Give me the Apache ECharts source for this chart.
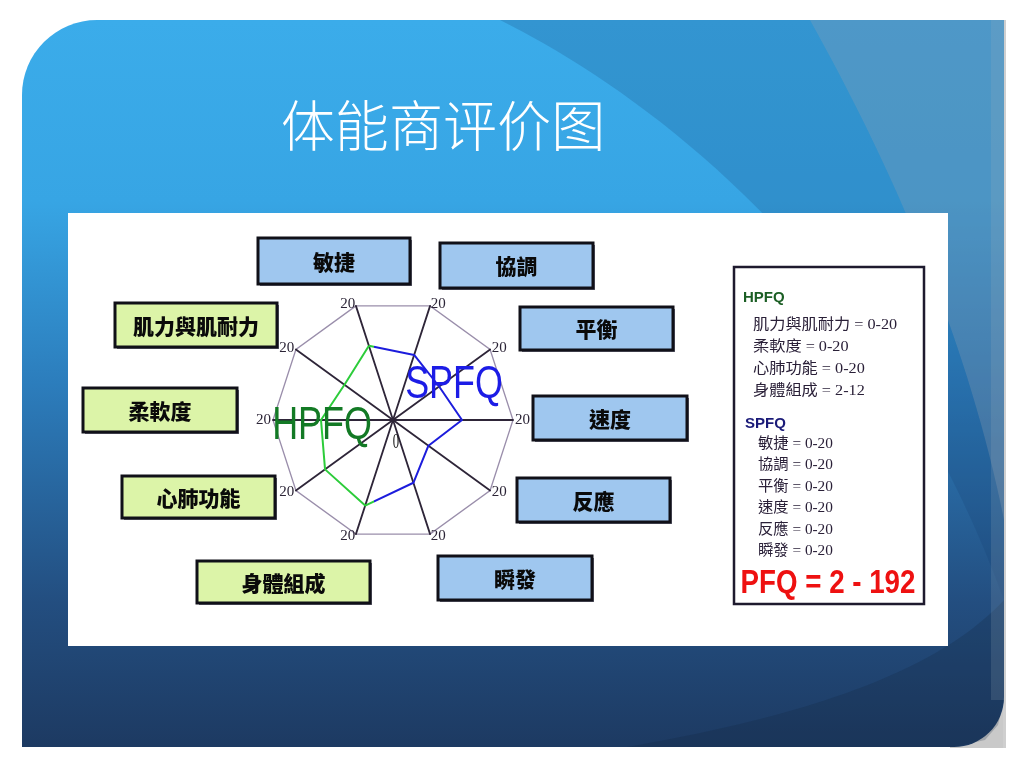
<!DOCTYPE html>
<html>
<head>
<meta charset="utf-8">
<title>体能商评价图</title>
<script src="https://cdn.jsdelivr.net/npm/echarts@6/dist/echarts.min.js"></script>
<style>
  html, body { margin: 0; padding: 0; background: #fff; }
  #main { width: 1024px; height: 768px; }
</style>
</head>
<body>
<div id="main"></div>
<script>
// indicators in counter-clockwise order, starting at the top (敏捷)
var indicators = ['敏捷', '肌力與肌耐力', '柔軟度', '心肺功能', '身體組成', '瞬發', '反應', '速度', '平衡', '協調'];
var maxValues  = [20, 20, 20, 20, 20, 20, 20, 20, 20, 20];
var scores     = [13, 10, 12, 14, 15, 11, 7.3, 11.5, 9.5, 11.4];

// legend panel
var hpfqItems  = ['肌力與肌耐力', '柔軟度', '心肺功能', '身體組成'];
var hpfqRanges = ['0-20', '0-20', '0-20', '2-12'];
var spfqItems  = ['敏捷', '協調', '平衡', '速度', '反應', '瞬發'];
var spfqRanges = ['0-20', '0-20', '0-20', '0-20', '0-20', '0-20'];
var pfqRange   = '2 - 192';

// label boxes: x, y, w, h
var boxLayout = {
  '敏捷': [258, 238, 152, 46],
  '協調': [440, 243, 153, 45],
  '平衡': [520, 307, 153, 43],
  '速度': [533, 396, 154, 44],
  '反應': [517, 478, 153, 44],
  '瞬發': [438, 556, 154, 44],
  '身體組成': [197, 561, 173, 42],
  '心肺功能': [122, 476, 153, 42],
  '柔軟度': [83, 388, 154, 44],
  '肌力與肌耐力': [115, 303, 162, 44]
};

var chart = echarts.init(document.getElementById('main'));

var cjk = '"Noto Sans CJK TC", "Noto Sans CJK SC", sans-serif';
var legendFont = '"Liberation Serif", "Noto Sans CJK TC", serif';

// sample a cubic bezier into polygon points (background decoration only)
function bez(p0, p1, p2, p3, n) {
  n = n || 40;
  var out = [];
  for (var i = 0; i <= n; i++) {
    var t = i / n, u = 1 - t;
    out.push([
      u * u * u * p0[0] + 3 * u * u * t * p1[0] + 3 * u * t * t * p2[0] + t * t * t * p3[0],
      u * u * u * p0[1] + 3 * u * u * t * p1[1] + 3 * u * t * t * p2[1] + t * t * t * p3[1]
    ]);
  }
  return out;
}

var g = [];

// slide background
g.push({ type: 'rect', z: -30, shape: { x: 950, y: 690, width: 56, height: 58 }, style: { fill: '#c9c9c9' } });
g.push({ type: 'rect', z: -30, shape: { x: 1003, y: 20, width: 3, height: 728 }, style: { fill: '#cfcfcf' } });
g.push({
  type: 'rect', z: -20,
  shape: { x: 22, y: 20, width: 982, height: 727, r: [75, 0, 50, 0] },
  style: {
    fill: { type: 'linear', x: 0, y: 0, x2: 0, y2: 1, colorStops: [
      { offset: 0, color: '#3bacea' }, { offset: 0.25, color: '#37a5e4' },
      { offset: 0.5, color: '#2c7dbc' }, { offset: 0.8, color: '#234e80' },
      { offset: 1, color: '#1d3a62' }] }
  }
});
g.push({ type: 'polygon', z: -19,
  shape: { points: bez([500, 20], [640, 90], [880, 260], [1004, 600]).concat([[1004, 20]]) },
  style: { fill: 'rgba(20,60,110,0.2)' } });
g.push({ type: 'polygon', z: -18,
  shape: { points: bez([810, 20], [860, 110], [960, 300], [1004, 520]).concat([[1004, 20]]) },
  style: { fill: 'rgba(150,160,175,0.28)' } });
g.push({ type: 'polygon', z: -18,
  shape: { points: bez([627, 747], [780, 720], [930, 680], [1004, 600]).concat([[1004, 700], [998, 725], [985, 740], [954, 747]]) },
  style: { fill: 'rgba(20,35,60,0.22)' } });
g.push({ type: 'rect', z: -17, shape: { x: 991, y: 20, width: 13, height: 680 }, style: { fill: 'rgba(160,175,190,0.18)' } });

// title
g.push({ type: 'text', z: 5, x: 443, y: 125, scaleX: 1.04, scaleY: 1.05, style: {
  text: '体能商评价图', x: 0, y: 0, fill: '#fff',
  font: '300 52px "Noto Sans CJK SC", sans-serif',
  textAlign: 'center', textVerticalAlign: 'middle', align: 'center', verticalAlign: 'middle' } });

// white panel
g.push({ type: 'rect', z: -10, shape: { x: 68, y: 213, width: 880, height: 433 }, style: { fill: '#fff' } });

// indicator boxes
indicators.forEach(function (name) {
  var b = boxLayout[name];
  var isH = hpfqItems.indexOf(name) >= 0;
  g.push({ type: 'rect', z: 8, shape: { x: b[0] + 2, y: b[1] + 2, width: b[2], height: b[3] }, style: { fill: '#6a6a7a' } });
  g.push({ type: 'rect', z: 9, shape: { x: b[0], y: b[1], width: b[2], height: b[3] },
    style: { fill: isH ? '#dcf4a8' : '#9fc7ef', stroke: '#101018', lineWidth: 3 } });
  g.push({ type: 'text', z: 10, style: {
    text: name, x: b[0] + b[2] / 2, y: b[1] + b[3] / 2 + 1, fill: '#0a0a0a',
    font: '900 21px ' + cjk,
    textAlign: 'center', textVerticalAlign: 'middle', align: 'center', verticalAlign: 'middle' } });
});

// group names inside the radar
var bigFont = '46px "Liberation Sans", sans-serif';
g.push({ type: 'text', z: 6, x: 322, y: 426, scaleX: 0.78, style: { text: 'HPFQ', x: 0, y: 0, fill: '#137a25',
  font: bigFont, textAlign: 'center', textVerticalAlign: 'middle', align: 'center', verticalAlign: 'middle' } });
g.push({ type: 'text', z: 6, x: 454, y: 385, scaleX: 0.78, style: { text: 'SPFQ', x: 0, y: 0, fill: '#1c1ce6',
  font: bigFont, textAlign: 'center', textVerticalAlign: 'middle', align: 'center', verticalAlign: 'middle' } });
g.push({ type: 'text', z: 6, x: 396, y: 443, scaleX: 0.8, scaleY: 1.3, style: { text: '0', x: 0, y: 0, fill: '#1a1a1a',
  font: '16px "Liberation Serif", serif',
  textAlign: 'center', textVerticalAlign: 'middle', align: 'center', verticalAlign: 'middle' } });

// legend panel
g.push({ type: 'rect', z: 8, shape: { x: 734, y: 267, width: 190, height: 337 },
  style: { fill: '#fff', stroke: '#1e1a2e', lineWidth: 2.5 } });
g.push({ type: 'text', z: 9, style: { text: 'HPFQ', x: 743, y: 298, fill: '#1b5e24',
  font: 'bold 15px "Liberation Sans", sans-serif', verticalAlign: 'middle', textVerticalAlign: 'middle' } });
hpfqItems.forEach(function (n, i) {
  g.push({ type: 'text', z: 9, x: 753, y: 325 + i * 22, scaleX: 1.08, style: { text: n + ' = ' + hpfqRanges[i], x: 0, y: 0,
    fill: '#2a2038', font: '15px ' + legendFont, verticalAlign: 'middle', textVerticalAlign: 'middle' } });
});
g.push({ type: 'text', z: 9, style: { text: 'SPFQ', x: 745, y: 424, fill: '#1a1a78',
  font: 'bold 15px "Liberation Sans", sans-serif', verticalAlign: 'middle', textVerticalAlign: 'middle' } });
spfqItems.forEach(function (n, i) {
  g.push({ type: 'text', z: 9, x: 758, y: 444 + i * 21.4, scaleX: 1.02, style: { text: n + ' = ' + spfqRanges[i], x: 0, y: 0,
    fill: '#2a2038', font: '15px ' + legendFont, verticalAlign: 'middle', textVerticalAlign: 'middle' } });
});
g.push({ type: 'text', z: 9, x: 828, y: 584, scaleX: 0.84, style: { text: 'PFQ = ' + pfqRange, x: 0, y: 0, fill: '#ee1111',
  font: 'bold 33px "Liberation Sans", sans-serif',
  textAlign: 'center', textVerticalAlign: 'middle', align: 'center', verticalAlign: 'middle' } });

var option = {
  backgroundColor: '#fff',
  animation: false,
  graphic: { elements: g },
  radar: {
    center: [393, 420],
    radius: 120,
    startAngle: 108,
    splitNumber: 1,
    indicator: indicators.map(function (n, i) { return { name: n, max: maxValues[i], min: 0 }; }),
    axisName: {
      formatter: function (v, ind) { return String(ind.max); },
      color: '#2b2436',
      fontFamily: 'Liberation Serif',
      fontSize: 15
    },
    nameGap: 2,
    axisLine: { lineStyle: { color: '#2e2538', width: 1.8 } },
    splitLine: { lineStyle: { color: '#9a8eab', width: 1.3 } },
    splitArea: { show: false }
  },
  series: [{
    type: 'radar',
    symbol: 'none',
    z: 5,
    lineStyle: {
      width: 2,
      color: { type: 'linear', x: 0, y: 0, x2: 1, y2: 0, colorStops: [
        { offset: 0, color: '#2ccc3a' }, { offset: 0.38, color: '#2ccc3a' },
        { offset: 0.38, color: '#1c1cdc' }, { offset: 1, color: '#1c1cdc' }] }
    },
    data: [{ name: 'PFQ', value: scores }]
  }]
};

chart.setOption(option);
</script>
</body>
</html>
